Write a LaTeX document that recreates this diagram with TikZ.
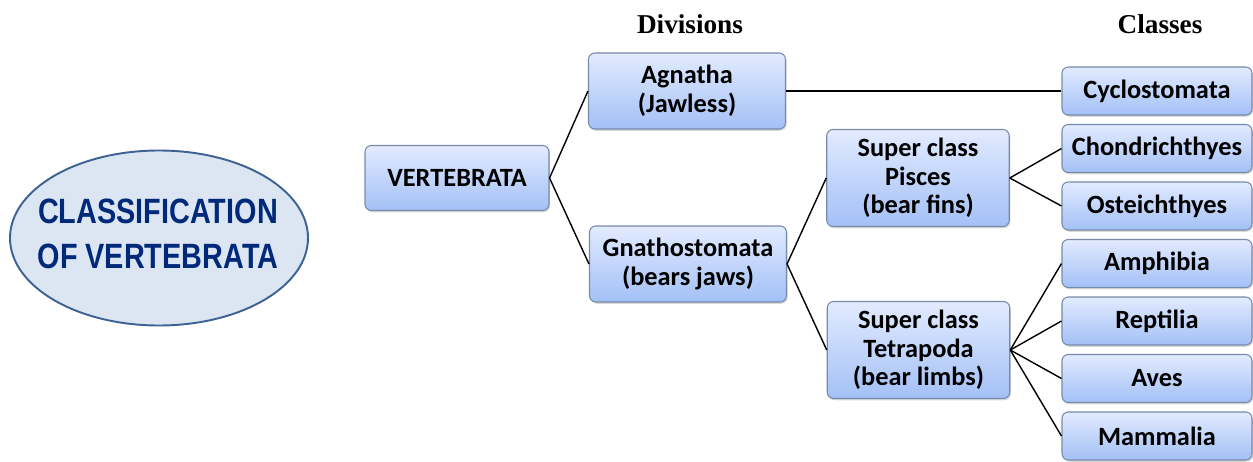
\documentclass[tikz,border=0pt]{standalone}
\usepackage{fontspec}
\usepackage{xcolor}
\usepackage{tikz}
\usetikzlibrary{positioning,shapes.geometric,shadows}

\newfontfamily\boxfont{Carlito}
\newfontfamily\titlefont[FakeStretch=0.82]{Liberation Sans}
\newfontfamily\headfont{Liberation Serif}

\definecolor{boxtop}{RGB}{226,235,255}
\definecolor{boxbot}{RGB}{163,192,246}
\definecolor{boxline}{RGB}{118,138,170}
\definecolor{ellfill}{RGB}{220,230,242}
\definecolor{ellline}{RGB}{62,98,148}
\definecolor{titleblue}{RGB}{0,41,122}

\begin{document}
\begin{tikzpicture}[
    taxon/.style={rectangle, rounded corners=3.6pt, draw=boxline, line width=0.6pt,
        top color=boxtop, bottom color=boxbot, align=center,
        font=\boxfont\bfseries\fontsize{15}{16.3}\selectfont,
        drop shadow={opacity=0.3, shadow xshift=0.6pt, shadow yshift=-1pt}},
    division/.style={taxon, minimum width=3.94cm, minimum height=1.52cm},
    super/.style={taxon, minimum width=3.65cm, minimum height=1.94cm},
    class/.style={taxon, minimum width=3.8cm, minimum height=0.96cm},
    head/.style={font=\headfont\bfseries\fontsize{15.5}{18}\selectfont},
    link/.style={draw=black, line width=0.8pt}
]
\useasboundingbox (0,0) rectangle (25.06,-9.24);

% Title
\node[ellipse, draw=ellline, line width=1.1pt, fill=ellfill, inner sep=0pt,
      minimum width=5.96cm, minimum height=3.5cm] (title) at (3.18,-4.76) {};
\node[align=center, text=titleblue,
      font=\titlefont\bfseries\fontsize{20}{26}\selectfont]
      (titletext) at (3.16,-4.68) {CLASSIFICATION\\OF VERTEBRATA};

% Column headings
\node[head] (divhead) at (13.8,-0.48) {Divisions};
\node[head] (clshead) at (23.2,-0.48) {Classes};

% Phylum
\node[taxon, minimum width=3.68cm, minimum height=1.3cm] (vert) at (9.14,-3.56) {VERTEBRATA};

% Divisions
\node[division] (agnatha) at (13.74,-1.82) {Agnatha\\(Jawless)};
\node[division] (gnatho) at (13.76,-5.28) {Gnathostomata\\(bears jaws)};

% Super classes
\node[super] (pisces) at (18.36,-3.56) {Super class\\Pisces\\(bear fins)};
\node[super] (tetra) at (18.37,-7.0) {Super class\\Tetrapoda\\(bear limbs)};

% Classes
\node[class] (cyclo) at (23.14,-1.82) {Cyclostomata};
\node[class] (chond) at (23.14,-2.97) {Chondrichthyes};
\node[class] (ostei) at (23.14,-4.12) {Osteichthyes};
\node[class] (amphi) at (23.14,-5.27) {Amphibia};
\node[class] (rept) at (23.14,-6.42) {Reptilia};
\node[class] (aves) at (23.14,-7.57) {Aves};
\node[class] (mamm) at (23.14,-8.72) {Mammalia};

% Branches
\draw[link] (vert.east) -- (agnatha.west);
\draw[link] (vert.east) -- (gnatho.west);
\draw[link] (agnatha.east) -- (cyclo.west);
\draw[link] (gnatho.east) -- (pisces.west);
\draw[link] (gnatho.east) -- (tetra.west);
\draw[link] (pisces.east) -- (chond.west);
\draw[link] (pisces.east) -- (ostei.west);
\draw[link] (tetra.east) -- (amphi.west);
\draw[link] (tetra.east) -- (rept.west);
\draw[link] (tetra.east) -- (aves.west);
\draw[link] (tetra.east) -- (mamm.west);
\end{tikzpicture}
\end{document}
